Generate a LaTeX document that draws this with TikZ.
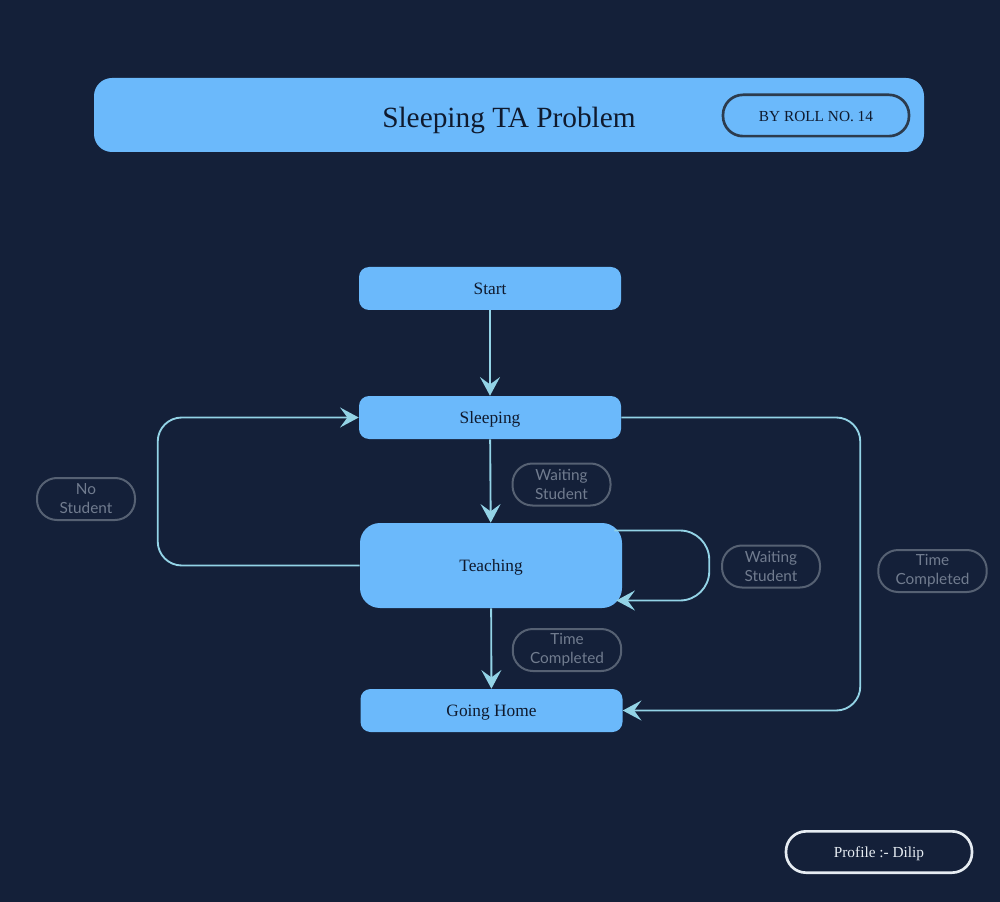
\documentclass[tikz,border=0pt]{standalone}
\usepackage{fontspec}
\setmainfont{Liberation Serif}
\newfontfamily\latofont{Lato}
\usepackage{xcolor}
\usetikzlibrary{arrows.meta,positioning}

\definecolor{bgnavy}{HTML}{142039}
\definecolor{stateblue}{HTML}{6BB9FB}
\definecolor{inkdark}{HTML}{0F1A2E}
\definecolor{arrowcyan}{HTML}{93D3E6}
\definecolor{taggray}{HTML}{566173}
\definecolor{tagtext}{HTML}{717C8F}
\definecolor{pilldark}{HTML}{2C3B4D}
\definecolor{pilllight}{HTML}{E6ECF2}

\begin{document}
\begin{tikzpicture}[
    x=0.75pt, y=-0.75pt,
    state/.style={rectangle, rounded corners=7.5pt, fill=stateblue, text=inkdark, minimum width=196.5pt, minimum height=32.25pt, text height=9.6pt, text depth=0pt, font=\fontsize{13}{15}\selectfont},
    tag/.style={rectangle, rounded corners=15pt, draw=taggray, line width=1.5pt, text=tagtext, align=center, minimum width=73.5pt, minimum height=31.5pt, inner xsep=13pt, inner ysep=2pt, font=\latofont\fontsize{11.5}{14.25}\selectfont},
    pill/.style={rectangle, rounded corners=15pt, line width=2pt, minimum width=139.5pt, minimum height=31pt, text height=8.6pt, text depth=0pt, font=\fontsize{11.5}{14}\selectfont},
    arrow/.style={-{Stealth[length=14pt,width=15pt,inset=5.5pt]}, line width=1.4pt, draw=arrowcyan}
]
    \useasboundingbox[fill=bgnavy] (0,0) rectangle (1000,902);

    % header
    \node[rectangle, rounded corners=13.5pt, fill=stateblue, minimum width=622.5pt, minimum height=55.5pt] (banner) at (509,115) {};
    \node[text=inkdark, text height=17.6pt, text depth=0pt, font=\fontsize{22}{26}\selectfont] (title) at (509,116) {Sleeping TA Problem};
    \node[pill, draw=pilldark, text=inkdark] (roll) at (816,115.5) {BY ROLL NO. 14};

    % states
    \node[state] (start) at (490,288.5) {Start};
    \node[state] (sleeping) at (490,417.5) {Sleeping};
    \node[state, rounded corners=15pt, minimum height=63.75pt] (teaching) at (491,565.5) {Teaching};
    \node[state] (home) at (491.5,710.5) {Going Home};

    % transitions
    \draw[arrow] (start) -- (sleeping);
    \draw[arrow] (sleeping) -- (teaching);
    \draw[arrow] (teaching) -- (home);
    \draw[arrow, rounded corners=18pt] (teaching.west) -- ++(-202,0) |- (sleeping.west);
    \draw[arrow, rounded corners=18pt] (sleeping.east) -- ++(239,0) |- (home.east);
    \draw[arrow, rounded corners=22pt] ([shift={(-8,-35)}]teaching.east) -- ++(95,0) -- ++(0,70) -- ([shift={(-6,35)}]teaching.east);

    % labels
    \node[tag] (nostudent) at (86,499) {No\\Student};
    \node[tag] (waitone) at (561.5,484.5) {Waiting\\Student};
    \node[tag] (waittwo) at (771,566.5) {Waiting\\Student};
    \node[tag] (timeone) at (567,650) {Time\\Completed};
    \node[tag] (timetwo) at (932.5,571) {Time\\Completed};

    % footer
    \node[pill, draw=pilllight, text=pilllight] (profile) at (879,852) {Profile :- Dilip};
\end{tikzpicture}
\end{document}
